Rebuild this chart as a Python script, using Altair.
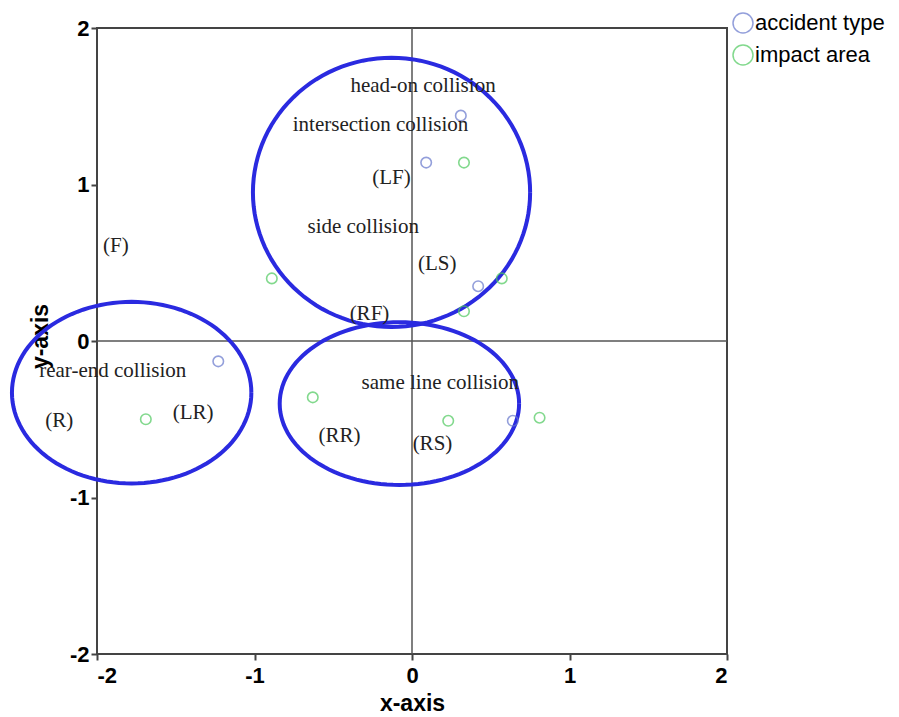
import altair as alt
import numpy as np
import pandas as pd

# accident type points (blue)
acc_x = [0.31, 0.09, 0.42, -1.23, 0.64]
acc_y = [1.44, 1.14, 0.35, -0.13, -0.51]
# impact area points (green)
imp_x = [0.33, -0.89, 0.57, 0.33, -1.69, -0.63, 0.23, 0.81]
imp_y = [1.14, 0.40, 0.40, 0.19, -0.50, -0.36, -0.51, -0.49]

# text labels
lab_text = ["head-on collision", "intersection collision", "(LF)", "side collision",
            "(LS)", "(RF)", "(F)", "rear-end collision", "(R)", "(LR)",
            "same line collision", "(RR)", "(RS)"]
lab_x = [0.07, -0.20, -0.13, -0.31, 0.16, -0.27, -1.88, -1.90, -2.24, -1.39, 0.18, -0.46, 0.13]
lab_y = [1.63, 1.38, 1.04, 0.73, 0.49, 0.17, 0.61, -0.19, -0.51, -0.46, -0.27, -0.61, -0.66]

# ellipses (cluster outlines): center x, center y, radius x, radius y
ell_cx = [-0.13, -1.78, -0.08]
ell_cy = [0.95, -0.33, -0.40]
ell_rx = [0.88, 0.76, 0.76]
ell_ry = [0.86, 0.58, 0.52]

ticks = [-2, -1, 0, 1, 2]

pts = pd.DataFrame({
    "x": acc_x + imp_x,
    "y": acc_y + imp_y,
    "type": ["accident type"] * len(acc_x) + ["impact area"] * len(imp_x),
})
labels = pd.DataFrame({"label": lab_text, "x": lab_x, "y": lab_y})

rows = []
angles = np.linspace(0, 2 * np.pi, 121)
for i in range(len(ell_cx)):
    for k, a in enumerate(angles):
        rows.append({"g": i, "t": k,
                     "x": ell_cx[i] + ell_rx[i] * np.cos(a),
                     "y": ell_cy[i] + ell_ry[i] * np.sin(a)})
ell = pd.DataFrame(rows)

xs = alt.Scale(domain=[-2, 2], nice=False, zero=False)
ys = alt.Scale(domain=[-2, 2], nice=False, zero=False)
axis_font = "Liberation Sans Narrow, Liberation Sans, Arial"
xaxis = alt.Axis(values=ticks, title="x-axis", grid=False, domain=False,
                 tickSize=6, tickWidth=2, tickColor="#444", labelPadding=5,
                 labelFont=axis_font, labelFontSize=22, labelFontWeight="bold",
                 labelColor="black", titleFont="Liberation Sans", titleFontSize=23,
                 titleFontWeight="bold", titleColor="black", titlePadding=6,
                 labelExpr="datum.value + ''")
yaxis = alt.Axis(values=ticks, title="y-axis", grid=False, domain=False,
                 tickSize=6, tickWidth=2, tickColor="#444", labelPadding=2,
                 labelFont=axis_font, labelFontSize=22, labelFontWeight="bold",
                 labelColor="black", titleFont="Liberation Sans", titleFontSize=23,
                 titleFontWeight="bold", titleColor="black", titleX=-57, titleY=308,
                 titleAlign="center", titleBaseline="middle", titleAngle=270,
                 labelExpr="datum.value + ''")

zero_h = alt.Chart(pd.DataFrame({"y": [0]})).mark_rule(color="#555", strokeWidth=1.5).encode(
    y=alt.Y("y:Q", scale=ys, axis=yaxis))
zero_v = alt.Chart(pd.DataFrame({"x": [0]})).mark_rule(color="#555", strokeWidth=1.5).encode(
    x=alt.X("x:Q", scale=xs, axis=xaxis))

ellipses = alt.Chart(ell).mark_line(color="#2a2ae0", strokeWidth=4, clip=False).encode(
    x=alt.X("x:Q", scale=xs, axis=xaxis),
    y=alt.Y("y:Q", scale=ys, axis=yaxis),
    detail="g:N",
    order="t:Q",
)

points = alt.Chart(pts).mark_point(shape="circle", filled=False, size=110, strokeWidth=1.6).encode(
    x=alt.X("x:Q", scale=xs, axis=xaxis),
    y=alt.Y("y:Q", scale=ys, axis=yaxis),
    stroke=alt.Stroke("type:N",
                      scale=alt.Scale(domain=["accident type", "impact area"],
                                      range=["#6677cc", "#4ec95e"]),
                      legend=alt.Legend(title=None, orient="none", legendX=635, legendY=-16,
                                        symbolType="circle", symbolSize=400,
                                        symbolStrokeWidth=1.5, symbolFillColor="transparent",
                                        labelFont="Liberation Sans", labelFontSize=22,
                                        labelColor="black", rowPadding=6, labelOffset=1)),
)

texts = alt.Chart(labels).mark_text(font="Liberation Serif", fontSize=21, color="#222",
                                    align="center", baseline="middle", clip=False).encode(
    x=alt.X("x:Q", scale=xs, axis=xaxis),
    y=alt.Y("y:Q", scale=ys, axis=yaxis),
    text="label:N",
)

chart = alt.layer(zero_h, zero_v, ellipses, points, texts).properties(
    width=630, height=626,
    autosize=alt.AutoSizeParams(type="none"),
    padding={"left": 89, "top": 20, "right": 164, "bottom": 63},
    background="white",
).configure_view(stroke="#444", strokeWidth=2)

chart.save("out.html", embed_options={"renderer": "svg", "actions": False})
